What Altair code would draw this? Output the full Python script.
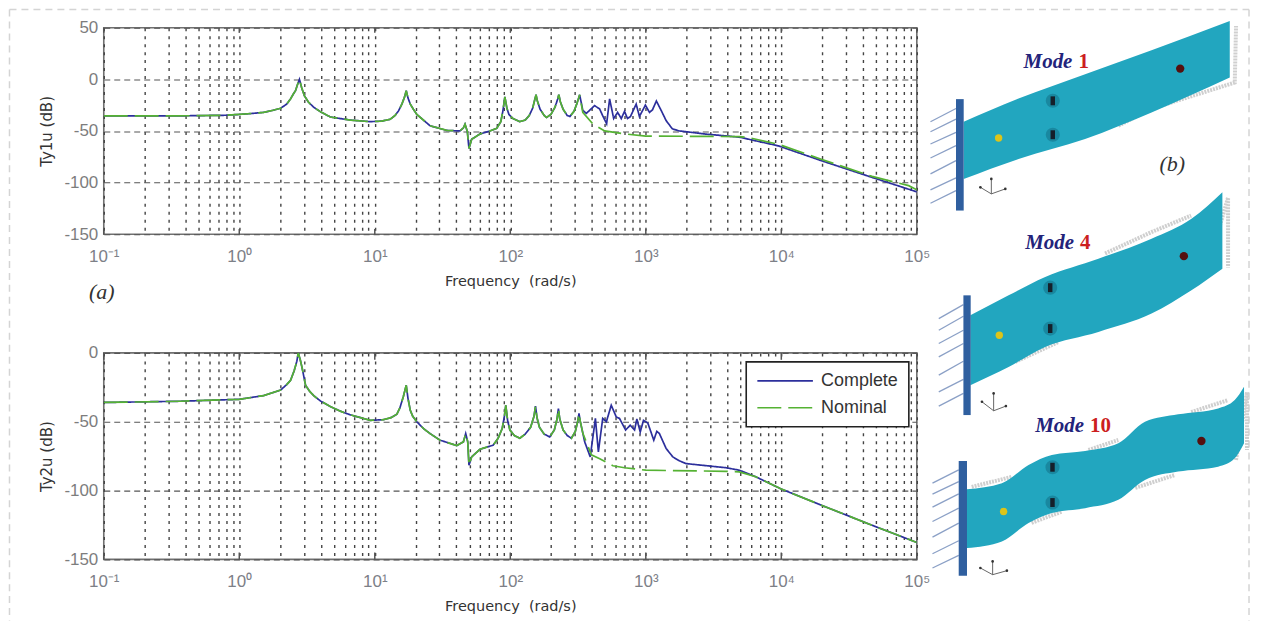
import altair as alt
import pandas as pd

# ---------- frequency responses: log10(rad/s) and dB ----------
t1_low_w = [-1, -0.5, -0.1, 0, 0.1, 0.18, 0.25, 0.305, 0.35, 0.378, 0.4, 0.415, 0.43, 0.444, 0.46, 0.481, 0.51, 0.549, 0.6, 0.672, 0.82, 0.967, 1.05, 1.114, 1.15, 1.175, 1.2, 1.22, 1.232, 1.245, 1.262, 1.285, 1.31, 1.408, 1.531, 1.629, 1.654, 1.666, 1.683, 1.695, 1.715, 1.776, 1.85, 1.9, 1.93, 1.945, 1.96, 1.975, 1.99, 2.02, 2.07, 2.11, 2.14, 2.165, 2.18, 2.19, 2.2, 2.22, 2.25, 2.267, 2.3, 2.33, 2.35, 2.358, 2.37, 2.39, 2.42, 2.44, 2.47, 2.49, 2.505, 2.512]
t1_low_db = [-35.5, -35.5, -34.8, -34, -33, -32, -30, -28, -24, -19, -14, -11, -5, 0, -8, -16, -22, -27, -31.5, -36.5, -39.5, -41, -40.5, -38.7, -35, -30.6, -24, -17, -11, -18, -24, -29, -34, -45, -49.5, -50, -47, -43.5, -50.5, -67, -58, -53, -50, -47.5, -41, -31, -17, -28, -34, -38, -41, -39.5, -35, -28, -20, -15, -21, -29, -35, -37, -34, -27, -19, -15, -22, -29, -35, -36, -31, -24, -18, -15]
t1_complete_w = [2.535, 2.561, 2.622, 2.659, 2.681, 2.711, 2.733, 2.763, 2.792, 2.819, 2.843, 2.865, 2.887, 2.929, 2.953, 2.997, 3.027, 3.049, 3.078, 3.113, 3.15, 3.196, 3.248, 3.44, 3.69, 3.98, 4.3, 4.67, 5]
t1_complete_db = [-30, -33, -25.5, -28.6, -35, -43, -19, -38, -32, -38, -31, -38, -36, -24, -36, -25, -32, -29.6, -21, -30, -40, -48, -50, -53, -56, -64.5, -79, -95, -109]
t1_nominal_w = [2.535, 2.608, 2.696, 2.856, 3.0, 3.37, 3.69, 3.76, 3.98, 4.3, 4.67, 4.94, 5]
t1_nominal_db = [-32, -43, -50, -53, -55, -55.2, -55.5, -56.5, -63, -77.7, -94, -103, -107]

t2_low_w = [-1, -0.43, 0, 0.18, 0.305, 0.35, 0.378, 0.405, 0.425, 0.435, 0.45, 0.464, 0.489, 0.52, 0.549, 0.6, 0.672, 0.75, 0.82, 0.967, 1.065, 1.12, 1.163, 1.185, 1.21, 1.232, 1.245, 1.262, 1.28, 1.31, 1.36, 1.408, 1.482, 1.605, 1.654, 1.671, 1.686, 1.695, 1.715, 1.776, 1.874, 1.91, 1.94, 1.955, 1.967, 1.98, 1.997, 2.03, 2.07, 2.11, 2.15, 2.175, 2.186, 2.197, 2.215, 2.25, 2.291, 2.325, 2.345, 2.355, 2.365, 2.39, 2.42, 2.451, 2.48, 2.497, 2.507, 2.517, 2.536]
t2_low_db = [-36, -35.1, -33.7, -31, -27, -23, -20, -13, -6, 0, -5, -11, -23.5, -28, -31, -35, -39, -42.5, -45, -49, -48.5, -47, -44.5, -40, -32, -23.5, -33, -41.7, -46, -50, -55, -58.6, -63.4, -67.3, -64.6, -58.6, -64.6, -81.6, -75.5, -70, -67, -62, -55, -47, -38, -49, -56, -60, -62, -59, -54, -46, -38.7, -47, -54, -59, -61, -56, -48, -40.5, -48, -56, -60, -62, -57, -50, -44, -50, -58.6]
t2_complete_w = [2.549, 2.59, 2.628, 2.65, 2.682, 2.709, 2.745, 2.782, 2.806, 2.851, 2.885, 2.917, 2.934, 2.959, 2.983, 3.015, 3.059, 3.081, 3.1, 3.15, 3.199, 3.248, 3.297, 3.592, 3.69, 3.812, 3.996, 4.3, 4.67, 5]
t2_complete_db = [-64.6, -75.5, -47.6, -71.9, -47.6, -50, -38, -46.5, -47.6, -56, -52.5, -56, -48, -57.4, -49, -51, -63.4, -57, -58.5, -69.4, -75.5, -78.4, -80.4, -83.4, -85.2, -90, -98.7, -110.8, -125.2, -137.7]
t2_nominal_w = [2.598, 2.66, 2.757, 2.843, 3.0, 3.592, 3.69, 3.812, 3.996, 4.3, 4.67, 5]
t2_nominal_db = [-74, -76.8, -82, -83.4, -85.2, -86, -86.4, -90, -98.7, -110.8, -125.2, -137.7]

series_names = ["Complete", "Nominal"]
series_colors = ["#2c2f9c", "#55b233"]
decade_labels = {0.1: "10⁻¹", 1: "10⁰", 10: "10¹", 100: "10²", 1000: "10³", 10000: "10⁴", 100000: "10⁵"}
grid_mantissas = [1, 2, 3, 4, 5, 6, 7, 8, 9]
grid_decades = [0.1, 1, 10, 100, 1000, 10000]

# ---------- mode-shape sketches, in the sketch's own coordinates ----------
beam_x = [[965, 1020, 1086.7, 1153.3, 1231.7],
          [971.7, 1010, 1046.7, 1100, 1153.3, 1193.3, 1224.3],
          [968.3, 1003.3, 1030, 1053.3, 1086.7, 1120, 1146.7, 1180, 1220, 1236.7, 1246]]
beam_top = [[121, 97.7, 73.3, 49.3, 20],
            [315, 295, 276.7, 258.3, 238.3, 218.3, 191.7],
            [489.3, 483.3, 465, 455, 451, 443.3, 421.7, 414.3, 408.3, 400, 386.7]]
beam_bottom = [[178.3, 158.3, 138.3, 111.7, 76.7],
               [385, 366.7, 346.7, 331.7, 313.3, 290, 268.3],
               [548.3, 541.7, 523.3, 513.3, 508.3, 500, 480, 471.7, 466.7, 458.3, 443.3]]
ghost_paths = [[(1120, 125), (1153, 108), (1236.7, 81.7), (1238, 25)],
               [(1106.7, 253), (1153, 231.7), (1193, 215)],
               [(1230, 197), (1230, 267), (1206.7, 277)],
               [(1016.7, 361.7), (1060, 341.7)],
               [(973, 487), (1013, 477)],
               [(1090, 450), (1120, 440)],
               [(1193, 412), (1230, 400)],
               [(1249, 392), (1249, 450), (1238, 460)],
               [(1033, 523), (1063, 512)],
               [(1137, 488), (1177, 475)]]
clamp_x = [957.3, 964.7, 960]
clamp_x2 = [965, 972, 968.3]
clamp_y = [98.3, 295, 461]
clamp_y2 = [210, 415, 576]
hatch_x = [931.7, 940, 933.7]
hatch_x2 = [957.3, 964.7, 960]
hatch_y = [[121, 131, 143.3, 157.3, 173.3, 189.3, 202.7],
           [318.3, 330, 343.3, 356.7, 375, 391.7, 406],
           [483.3, 494.3, 507.3, 521.7, 537.3, 554, 568.3]]
hatch_y2 = [[107.7, 118.3, 131.7, 145, 160, 177.3, 190],
            [304.3, 316, 330, 343.3, 361, 379.3, 393.3],
            [470, 481.7, 494, 508.3, 523.3, 541, 555.7]]
triad_origin = [(992.7, 193.3), (995, 410.7), (994, 575)]
triad_arms = [[(992.7, 178.3), (981.7, 186.7), (1006.7, 188.3)],
              [(995, 393.3), (983.3, 401.7), (1007.3, 406)],
              [(994, 561.7), (981.7, 568.3), (1008.3, 571)]]
yellow_x = [1000, 1000.7, 1005]
yellow_y = [137.3, 335, 511.7]
patch_x = [1054.3, 1054.3, 1051.7, 1051.7, 1054, 1054]
patch_y = [100, 134, 287.3, 328.3, 467.3, 502.7]
red_x = [1182, 1185.7, 1203.3]
red_y = [67.7, 255.7, 441]
mode_words = ["Mode", "Mode", "Mode"]
mode_numbers = ["1", "4", "10"]
mode_word_x = [1025, 1026.7, 1036.7]
mode_num_x = [1080, 1081.7, 1091.7]
mode_y = [66.7, 249, 432.3]
panel_tags = ["(a)", "(b)"]
panel_tag_x = [101, 1174]
panel_tag_y = [292, 163]
frame_x = [8.5, 8.5, 1251]
frame_x2 = [1251, 8.5, 1251]
frame_y = [8.5, 8.5, 8.5]
frame_y2 = [8.5, 621, 621]


def response(low_w, low_db, w, db, name):
    return pd.DataFrame({"w": [10 ** v for v in low_w + w], "db": low_db + db, "series": name})


t1 = pd.concat([response(t1_low_w, t1_low_db, t1_complete_w, t1_complete_db, "Complete"),
                response(t1_low_w, t1_low_db, t1_nominal_w, t1_nominal_db, "Nominal")])
t2 = pd.concat([response(t2_low_w, t2_low_db, t2_complete_w, t2_complete_db, "Complete"),
                response(t2_low_w, t2_low_db, t2_nominal_w, t2_nominal_db, "Nominal")])

label_expr = "".join(f"datum.value==={k}?'{v}':" for k, v in decade_labels.items()) + "''"
x_grid = [d * m for d in grid_decades for m in grid_mantissas] + [100000]
major_w = list(decade_labels)

PLOT_W, PLOT_H = 815, 207
frame_view = alt.ViewBackground(stroke="#707070", strokeWidth=1.6)


def bode(df, ytitle, ydomain, yticks, legend):
    x_axis = alt.Axis(values=x_grid, labelExpr=label_expr, labelOverlap=False, labelFlush=False,
                      labelBound=False, grid=True, gridDash=[3, 5], gridColor="#444444", gridWidth=1.4,
                      ticks=False, domain=False, labelFontSize=17, labelColor="#7d8087",
                      labelFont="Liberation Sans", labelPadding=14, title="Frequency\u00a0\u00a0(rad/s)",
                      titleFont="DejaVu Sans", titleFontSize=14.5, titleFontWeight="normal",
                      titleColor="#333333", titlePadding=10)
    y_axis = alt.Axis(values=yticks, grid=True, gridDash=[6, 4], gridColor="#555555", gridWidth=1.1,
                      ticks=False, domain=False, labelFontSize=17, labelColor="#7d7d7d",
                      labelExpr="''+datum.value",
                      labelFont="Liberation Sans", labelPadding=6, title=ytitle,
                      titleFont="DejaVu Sans", titleFontSize=15, titleFontWeight="normal",
                      titleColor="#333333", titlePadding=9)
    X_ = alt.X("w:Q", scale=alt.Scale(type="log", domain=[0.1, 100000]), axis=x_axis)
    Y_ = alt.Y("db:Q", scale=alt.Scale(domain=ydomain), axis=y_axis)
    lines = alt.Chart(df).mark_line(clip=True, strokeWidth=1.7).encode(
        x=X_, y=Y_,
        color=alt.Color("series:N", scale=alt.Scale(domain=series_names, range=series_colors), legend=legend),
        strokeDash=alt.StrokeDash("series:N", scale=alt.Scale(domain=series_names, range=[[1, 0], [24, 7]]),
                                  legend=legend),
    )
    low, high = ydomain
    ticks_bottom = alt.Chart(pd.DataFrame({"w": major_w, "db": low, "db2": low + 5})).mark_rule(
        color="#555555", strokeWidth=1.5).encode(x=X_, y=Y_, y2="db2:Q")
    ticks_top = alt.Chart(pd.DataFrame({"w": major_w, "db": high, "db2": high - 5})).mark_rule(
        color="#555555", strokeWidth=1.5).encode(x=X_, y=Y_, y2="db2:Q")
    return alt.layer(ticks_bottom, ticks_top, lines).properties(width=PLOT_W, height=PLOT_H, view=frame_view)


legend = alt.Legend(title=None, orient="none", legendX=644, legendY=9, fillColor="white",
                    strokeColor="#222222", padding=10, symbolType="stroke", symbolSize=3100,
                    symbolStrokeWidth=1.6, labelFont="Liberation Sans", labelFontSize=18,
                    labelColor="#333333", labelOffset=7, rowPadding=9, symbolOffset=0, clipHeight=18)
top = bode(t1, "Ty1u (dB)", [-150, 50], [-150, -100, -50, 0, 50], None)
bottom = bode(t2, "Ty2u (dB)", [-150, 0], [-150, -100, -50, 0], legend)

# ---------- right-hand sketches ----------
SK_W, SK_H = 319, PLOT_H
sx = alt.Scale(domain=[930, 930 + SK_W], range=[0, SK_W])
sy = alt.Scale(domain=[26.7, 26.7 + SK_H], range=[0, SK_H])
X = alt.X("x:Q", scale=sx, axis=None)
Y = alt.Y("y:Q", scale=sy, axis=None)

beams = pd.DataFrame([{"x": x, "y": t, "y2": b, "mode": i}
                      for i in range(3) for x, t, b in zip(beam_x[i], beam_top[i], beam_bottom[i])])
ghosts = pd.DataFrame([{"x": p[0], "y": p[1], "seg": i} for i, path in enumerate(ghost_paths) for p in path])
clamps = pd.DataFrame({"x": clamp_x, "x2": clamp_x2, "y": clamp_y, "y2": clamp_y2})
hatches = pd.DataFrame([{"x": hatch_x[i], "x2": hatch_x2[i], "y": a, "y2": b}
                        for i in range(3) for a, b in zip(hatch_y[i], hatch_y2[i])])
triads = pd.DataFrame([{"x": o[0], "y": o[1], "x2": a[0], "y2": a[1]}
                       for o, arms in zip(triad_origin, triad_arms) for a in arms])
tips = pd.DataFrame([{"x": a[0], "y": a[1]} for arms in triad_arms for a in arms])
frame = pd.DataFrame({"x": frame_x, "x2": frame_x2, "y": frame_y, "y2": frame_y2})
words = pd.DataFrame({"x": mode_word_x, "y": mode_y, "t": mode_words})
numbers = pd.DataFrame({"x": mode_num_x, "y": mode_y, "t": mode_numbers})
tags = pd.DataFrame({"x": panel_tag_x, "y": panel_tag_y, "t": panel_tags})
patches = pd.DataFrame({"x": patch_x, "y": patch_y})

sketch = alt.layer(
    alt.Chart(frame).mark_rule(color="#d4d4d4", strokeWidth=1.5, strokeDash=[7, 5]).encode(
        x=X, x2="x2:Q", y=Y, y2="y2:Q"),
    alt.Chart(ghosts).mark_line(color="#cfcfcf", strokeWidth=4, strokeDash=[2, 1]).encode(
        x=X, y=Y, detail="seg:N"),
    alt.Chart(beams).mark_area(color="#22a6bf", interpolate="monotone").encode(x=X, y=Y, y2="y2:Q", detail="mode:N"),
    alt.Chart(hatches).mark_rule(color="#8ba0c6", strokeWidth=1.3).encode(x=X, x2="x2:Q", y=Y, y2="y2:Q"),
    alt.Chart(clamps).mark_rect(color="#2f5f9f").encode(x=X, x2="x2:Q", y=Y, y2="y2:Q"),
    alt.Chart(triads).mark_rule(color="#555555", strokeWidth=0.9).encode(x=X, x2="x2:Q", y=Y, y2="y2:Q"),
    alt.Chart(tips).mark_circle(color="#333333", size=7, opacity=1).encode(x=X, y=Y),
    alt.Chart(patches).mark_circle(color="#14758c", size=200, opacity=0.6).encode(x=X, y=Y),
    alt.Chart(pd.DataFrame({"x": yellow_x, "y": yellow_y})).mark_circle(color="#dcc41a", size=55, opacity=1).encode(x=X, y=Y),
    alt.Chart(patches).mark_point(
        shape="M-0.5,-1H0.5V1H-0.5Z", filled=True, color="#15202a", size=80, opacity=1).encode(x=X, y=Y),
    alt.Chart(pd.DataFrame({"x": red_x, "y": red_y})).mark_circle(color="#55100f", size=70, opacity=1).encode(x=X, y=Y),
    alt.Chart(words).mark_text(align="left", baseline="alphabetic", font="Liberation Serif", fontSize=21,
                               fontWeight="bold", fontStyle="italic", color="#23237a").encode(x=X, y=Y, text="t:N"),
    alt.Chart(numbers).mark_text(align="left", baseline="alphabetic", font="Liberation Serif", fontSize=21,
                                 fontWeight="bold", color="#cc1f1f").encode(x=X, y=Y, text="t:N"),
    alt.Chart(tags).mark_text(align="center", baseline="middle", font="Liberation Serif", fontSize=22,
                              fontStyle="italic", color="#333333").encode(x=X, y=Y, text="t:N"),
).properties(width=SK_W, height=SK_H, view=alt.ViewBackground(stroke="transparent"))

chart = alt.concat(top, sketch, bottom, columns=2, spacing={"row": 119, "column": 12}, bounds="flush").resolve_scale(
    color="independent", strokeDash="independent"
).properties(padding=0, background="white").configure_view(strokeWidth=0).configure_legend(strokeWidth=1.6)

chart.save("out.html", embed_options={"renderer": "svg", "actions": False})
